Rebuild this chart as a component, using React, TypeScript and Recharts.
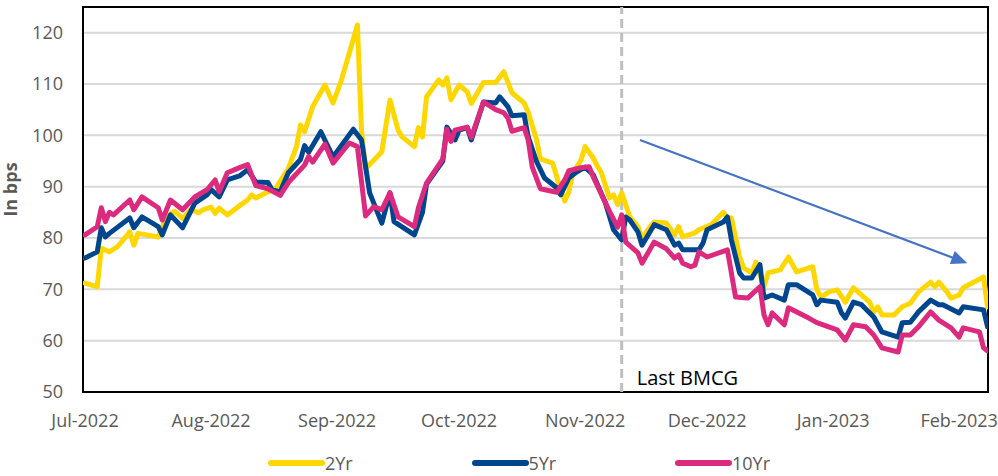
import React from 'react';
import {
  LineChart,
  Line,
  XAxis,
  YAxis,
  CartesianGrid,
  ReferenceLine,
  ReferenceArea,
  Legend,
} from 'recharts';

// ---- Data (x values are days since 1 Jul 2022) ----
const START_DATE = '2022-07-01';

const monthTickDates = [
  '2022-07-01', '2022-08-01', '2022-09-01', '2022-10-01',
  '2022-11-01', '2022-12-01', '2023-01-01', '2023-02-01',
];
const monthTickLabels = [
  'Jul-2022', 'Aug-2022', 'Sep-2022', 'Oct-2022',
  'Nov-2022', 'Dec-2022', 'Jan-2023', 'Feb-2023',
];
const yTicks = [50, 60, 70, 80, 90, 100, 110, 120];

const days2Yr = [
  0, 3, 4, 6, 8, 11, 12, 13, 18, 20,
  22, 24, 26, 28, 29, 31, 32, 33, 35, 38,
  40, 41, 42, 45, 47, 50, 52, 53, 54, 56,
  59, 61, 63, 67, 68, 69, 73, 75, 77, 78,
  81, 82, 83, 84, 87, 88, 89, 90, 92, 94,
  95, 98, 101, 103, 105, 108, 109, 111, 112, 115,
  117, 118, 119, 120, 122, 123, 125, 126, 127, 129,
  130, 131, 132, 134, 136, 137, 139, 140, 143, 145,
  146, 147, 150, 151, 154, 157, 158, 159, 161, 162,
  164, 165, 167, 168, 171, 173, 175, 179, 180, 181,
  183, 185, 187, 189, 193, 194, 195, 196, 199, 201,
  203, 205, 208, 209, 210, 212, 213, 215, 216, 221,
  222,
];
const bps2Yr = [
  71.2, 70.5, 78, 77.3, 78.3, 81.2, 78.6, 80.9, 80.2, 84.1,
  85.2, 83.8, 85.5, 84.9, 85.5, 86, 84.8, 85.8, 84.5, 86.3,
  87.4, 88.4, 87.8, 89, 89.8, 93.5, 97.8, 102, 100.7, 105.6,
  109.8, 106.3, 110.6, 121.5, 101, 93.5, 96.8, 106.9, 101, 99.7,
  97.8, 101.5, 99.7, 107.5, 110.8, 109.8, 111.2, 106.9, 109.8, 108.5,
  106.2, 110.3, 110.3, 112.4, 108.3, 106.3, 104.5, 99.3, 95.4, 94.6,
  89.4, 87.2, 89, 92.7, 95.2, 97.8, 95.6, 94, 92.7, 87.8,
  88.4, 86.5, 88.8, 84.1, 82.2, 80, 82.2, 83.1, 82.9, 80.6,
  82.2, 80.2, 81, 81.6, 82.6, 85, 83.9, 83.9, 76.3, 74.2,
  73.2, 75.3, 70.5, 73.2, 73.8, 76.3, 73.4, 74.4, 69.9, 68.5,
  69.5, 69.9, 67.5, 70.3, 67.5, 65.6, 66.6, 65, 65, 66.6,
  67.3, 69.5, 71.4, 70.5, 71.4, 69.5, 68.3, 68.9, 70.3, 72.4,
  66.6,
];

const days5Yr = [
  0, 3, 4, 5, 6, 11, 12, 14, 18, 19,
  21, 24, 27, 30, 31, 33, 35, 38, 40, 42,
  45, 46, 48, 50, 53, 54, 55, 58, 61, 66,
  68, 70, 73, 75, 76, 81, 83, 84, 88, 89,
  91, 92, 94, 95, 98, 101, 102, 104, 105, 108,
  109, 111, 113, 116, 117, 119, 121, 123, 125, 128,
  130, 132, 133, 134, 136, 137, 140, 143, 145, 146,
  147, 151, 152, 153, 157, 158, 159, 161, 162, 164,
  166, 167, 169, 172, 173, 175, 179, 180, 181, 185,
  186, 187, 189, 191, 194, 196, 200, 201, 203, 205,
  208, 210, 211, 215, 216, 221, 222,
];
const bps5Yr = [
  76.1, 77.3, 82, 80.2, 80.9, 83.9, 82, 84.1, 82.2, 80.6,
  84.5, 82, 86.8, 88.4, 89.4, 88, 91.3, 92.1, 93.3, 90.9,
  90.8, 89.4, 89, 92.7, 95.3, 98, 96.7, 100.7, 95.8, 101.2,
  99.1, 88.8, 82.9, 88.8, 83.2, 80.6, 85, 90.5, 95, 101.6,
  99.1, 101, 101.5, 99.1, 106.5, 106.3, 107.5, 105.6, 103.8, 104,
  99.7, 95, 91.7, 89.8, 88.4, 91.7, 92.9, 93.8, 92.3, 86.8,
  81.6, 79.6, 84.1, 83.5, 81.2, 78.6, 82.6, 81.6, 78.6, 79,
  77.7, 77.7, 79, 81.6, 83.1, 84.1, 79.6, 73.2, 72.2, 72.2,
  74.8, 68.3, 68.9, 67.9, 70.9, 70.9, 68.9, 67, 67.9, 67.5,
  65.5, 64.4, 67.5, 67, 64.6, 61.7, 60.7, 63.5, 63.6, 65.6,
  67.9, 67, 67, 65.4, 66.6, 66, 62.7,
];

const days10Yr = [
  0, 3, 4, 5, 6, 7, 11, 12, 14, 18,
  19, 21, 24, 27, 30, 32, 33, 35, 38, 40,
  42, 45, 48, 50, 54, 55, 56, 59, 61, 65,
  67, 69, 71, 73, 75, 77, 81, 82, 84, 88,
  89, 90, 91, 94, 95, 98, 101, 103, 104, 105,
  108, 109, 110, 112, 116, 118, 119, 122, 124, 125,
  129, 131, 132, 133, 136, 137, 140, 143, 145, 146,
  147, 149, 150, 151, 153, 158, 160, 163, 166, 167,
  168, 169, 172, 173, 178, 180, 185, 187, 189, 192,
  194, 196, 200, 201, 203, 205, 208, 210, 213, 215,
  216, 220, 221, 222,
];
const bps10Yr = [
  80.6, 82.2, 85.9, 83.2, 85, 84.5, 87.4, 85.5, 88, 85.9,
  83.5, 87.4, 85.5, 88, 89.4, 91.3, 89, 92.7, 93.7, 94.3,
  90.2, 89.6, 88.3, 90.8, 94.2, 95.9, 94.8, 98.3, 94.6, 98.5,
  97.8, 84.3, 86.1, 85.5, 88.8, 84.1, 82.2, 85.9, 90.7, 95.4,
  101.2, 98.8, 101, 101.6, 99.6, 106.5, 105, 104.4, 103.4, 100.8,
  101.5, 99.1, 93.8, 89.6, 88.9, 91.3, 93.1, 93.7, 93.9, 91.9,
  85.2, 82.1, 84.5, 79.2, 77.1, 75.1, 79.2, 77.9, 76.1, 76.7,
  75.1, 74.4, 74.7, 77.3, 76.3, 77.7, 68.5, 68.3, 70.5, 65,
  63.1, 65.4, 63.1, 66.4, 64.4, 63.5, 62.1, 60.1, 63.1, 62.7,
  61.1, 58.6, 57.8, 61.1, 61.1, 62.7, 65.6, 64, 62.5, 60.7,
  62.5, 61.7, 58.6, 58,
];

const LAST_BMCG_DATE = '2022-11-10';
const LAST_BMCG_LABEL = 'Last BMCG';
const TREND_ARROW = [
  { day: 136.5, bps: 99.1 },
  { day: 217, bps: 75.1 },
];

// ---- helpers ----
const dayOf = (iso: string) =>
  (Date.parse(iso + 'T00:00:00Z') - Date.parse(START_DATE + 'T00:00:00Z')) / 86400000;

const monthTicks = monthTickDates.map(dayOf);
const lastBmcgDay = dayOf(LAST_BMCG_DATE);

const toRows = (days: number[], vals: number[]) =>
  days.map((d, i) => ({ day: d, bps: vals[i] }));

const series = [
  { name: '2Yr', color: '#FFD700', data: toRows(days2Yr, bps2Yr) },
  { name: '5Yr', color: '#00468E', data: toRows(days5Yr, bps5Yr) },
  { name: '10Yr', color: '#DC2A7F', data: toRows(days10Yr, bps10Yr) },
];

const X_DOMAIN: [number, number] = [-0.5, 222.1];
const Y_DOMAIN: [number, number] = [50, 125];
const FONT = '"Open Sans", "DejaVu Sans", sans-serif';
const GRAY = '#595959';

const ArrowShape = (p: any) => {
  const { x1, y1, x2, y2 } = p;
  if ([x1, y1, x2, y2].some((v) => typeof v !== 'number' || isNaN(v))) return null;
  const dx = x2 - x1;
  const dy = y2 - y1;
  const len = Math.hypot(dx, dy) || 1;
  const ux = dx / len;
  const uy = dy / len;
  const head = 16;
  const half = 7;
  const bx = x2 - ux * head;
  const by = y2 - uy * head;
  const px = -uy;
  const py = ux;
  return (
    <g>
      <line x1={x1} y1={y1} x2={bx + ux * 2} y2={by + uy * 2} stroke="#4472C4" strokeWidth={2.2} />
      <polygon
        points={`${x2},${y2} ${bx + px * half},${by + py * half} ${bx - px * half},${by - py * half}`}
        fill="#4472C4"
      />
    </g>
  );
};

const BmcgLabel = (props: any) => {
  const vb = props.viewBox || {};
  const x = (vb.x ?? 0) + 15;
  const y = (vb.y ?? 0) + (vb.height ?? 0) - 7;
  return (
    <text x={x} y={y} fill="#000" fontSize={20} fontFamily={FONT}>
      {LAST_BMCG_LABEL}
    </text>
  );
};

const YLabel = (props: any) => {
  const vb = props.viewBox || {};
  const x = (vb.x ?? 0) + 17;
  const y = (vb.y ?? 0) + (vb.height ?? 0) / 2 - 10;
  return (
    <text
      x={x}
      y={y}
      transform={`rotate(-90, ${x}, ${y})`}
      textAnchor="middle"
      fill={GRAY}
      fontSize={18}
      fontWeight="bold"
      fontFamily={FONT}
    >
      In bps
    </text>
  );
};

const LegendContent = () => (
  <div style={{ position: 'relative', width: 998, height: 34, fontFamily: FONT }}>
    {series.map((s, i) => (
      <div
        key={s.name}
        style={{
          position: 'absolute',
          left: 267 + i * 203.5,
          top: 12,
          height: 18,
          display: 'flex',
          alignItems: 'center',
        }}
      >
        <svg width={58} height={10} style={{ display: 'block' }}>
          <line x1={4} y1={5} x2={55} y2={5} stroke={s.color} strokeWidth={6} strokeLinecap="round" />
        </svg>
        <span style={{ fontSize: 18, color: GRAY, lineHeight: '18px', marginLeft: 0 }}>{s.name}</span>
      </div>
    ))}
  </div>
);

export default function App() {
  return (
    <div style={{ position: 'absolute', left: 0, top: 0, width: 998, height: 476, background: '#fff' }}>
      <LineChart
        width={998}
        height={476}
        margin={{ top: 7, right: 10, bottom: 0, left: 0 }}
        style={{ fontFamily: FONT }}
      >
        <CartesianGrid vertical={false} stroke="#D9D9D9" strokeWidth={2} />
        <XAxis
          dataKey="day"
          type="number"
          domain={X_DOMAIN}
          allowDataOverflow
          ticks={monthTicks}
          interval={0}
          tickFormatter={(v: number) => {
            const idx = monthTicks.indexOf(v);
            return idx >= 0 ? monthTickLabels[idx] : '';
          }}
          axisLine={false}
          tickLine={false}
          tickSize={0}
          tickMargin={22}
          height={50}
          tick={{ fill: GRAY, fontSize: 18, fontFamily: FONT }}
        />
        <YAxis
          type="number"
          domain={Y_DOMAIN}
          ticks={yTicks}
          allowDataOverflow
          width={83}
          axisLine={false}
          tickLine={false}
          tickSize={0}
          tickMargin={20}
          tick={{ fill: GRAY, fontSize: 18, fontFamily: FONT }}
          label={{ content: YLabel }}
        />
        <ReferenceLine
          x={lastBmcgDay}
          stroke="#BFBFBF"
          strokeWidth={3}
          strokeDasharray="9 5"
          label={{ content: BmcgLabel }}
        />
        {series.map((s) => (
          <Line
            key={s.name}
            data={s.data}
            dataKey="bps"
            name={s.name}
            type="linear"
            stroke={s.color}
            strokeWidth={5}
            strokeLinejoin="round"
            strokeLinecap="round"
            dot={false}
            activeDot={false}
            isAnimationActive={false}
          />
        ))}
        <ReferenceLine
          segment={[
            { x: TREND_ARROW[0].day, y: TREND_ARROW[0].bps },
            { x: TREND_ARROW[1].day, y: TREND_ARROW[1].bps },
          ]}
          shape={ArrowShape}
        />
        <ReferenceArea
          x1={X_DOMAIN[0]}
          x2={X_DOMAIN[1]}
          y1={Y_DOMAIN[0]}
          y2={Y_DOMAIN[1]}
          fill="none"
          fillOpacity={0}
          stroke="#000"
          strokeWidth={2}
        />
        <Legend verticalAlign="bottom" content={LegendContent} wrapperStyle={{ left: 0, width: 998 }} />
      </LineChart>
    </div>
  );
}
